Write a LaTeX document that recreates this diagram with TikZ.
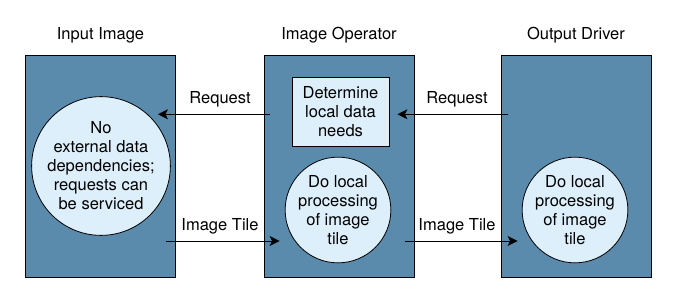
\documentclass[tikz,border=0pt]{standalone}
\usepackage{fontspec}
\setmainfont{TeX Gyre Heros}
\usetikzlibrary{arrows.meta}
\definecolor{tilebg}{RGB}{90,139,172}
\definecolor{bubble}{RGB}{221,239,250}
\begin{document}
\begin{tikzpicture}[
    x=1pt, y=1pt,
    >={Stealth[length=10pt,width=10pt,inset=2.5pt]},
    font=\fontsize{16.5}{19}\selectfont,
    % Core styles: stages, inner boxes, bubbles, flows
    stage_title/.style={text=black},
    stage/.style={draw=black, line width=0.8pt, fill=tilebg, minimum width=150pt, minimum height=222pt, inner sep=0pt},
    task/.style={draw=black, line width=0.8pt, fill=bubble, align=center, minimum width=97pt, minimum height=69pt, inner sep=2pt},
    bub/.style={draw=black, line width=0.8pt, fill=bubble, circle, align=center, inner sep=0pt},
    lbl/.style={text=black},
    flow/.style={->, line width=0.8pt, draw=black}
  ]

  % Bounding box locked to the 676 x 303 frame
  \useasboundingbox (0, 0) rectangle (676, 303);

  % ---------------------------------------------------------
  % PLANE 1: TITLES (Y = 268)
  % ---------------------------------------------------------
  \node[stage_title] (t_in) at (100.5, 268) {Input Image};
  \node[stage_title] (t_op) at (339, 268) {Image Operator};
  \node[stage_title] (t_out) at (576, 268) {Output Driver};

  % ---------------------------------------------------------
  % PLANE 2: STAGES (Y = 137)
  % ---------------------------------------------------------
  \node[stage] (input) at (100.5, 137) {};
  \node[stage] (op) at (339, 137) {};
  \node[stage] (out) at (576, 137) {};

  % Inner work of each stage
  \node[bub, minimum size=134pt] (serve) at (101, 137) {No\\external data\\dependencies;\\requests can\\be serviced};
  \node[task] (needs) at (340.5, 191.5) {Determine\\local data\\needs};
  \node[bub, minimum size=102pt] (proc) at (338, 93) {Do local\\processing\\of image\\tile};
  \node[bub, minimum size=102pt] (draw) at (575, 93) {Do local\\processing\\of image\\tile};

  % ---------------------------------------------------------
  % PLANE 3: FLOWS BETWEEN STAGES
  % ---------------------------------------------------------
  \draw[flow] ([shift={(6pt,51.7pt)}]op.west) -- ([shift={(-18pt,51.7pt)}]input.east);
  \draw[flow] ([shift={(7pt,51.7pt)}]out.west) -- ([shift={(-17pt,51.7pt)}]op.east);
  \draw[flow] ([shift={(-10pt,-75pt)}]input.east) -- ([shift={(16pt,-75pt)}]op.west);
  \draw[flow] ([shift={(-9pt,-75pt)}]op.east) -- ([shift={(17pt,-75pt)}]out.west);

  % Flow labels, centred in the gaps
  \node[lbl] (req_l) at (220, 204) {Request};
  \node[lbl] (req_r) at (457, 204) {Request};
  \node[lbl] (tile_l) at (220, 77) {Image Tile};
  \node[lbl] (tile_r) at (457, 77) {Image Tile};

\end{tikzpicture}
\end{document}
